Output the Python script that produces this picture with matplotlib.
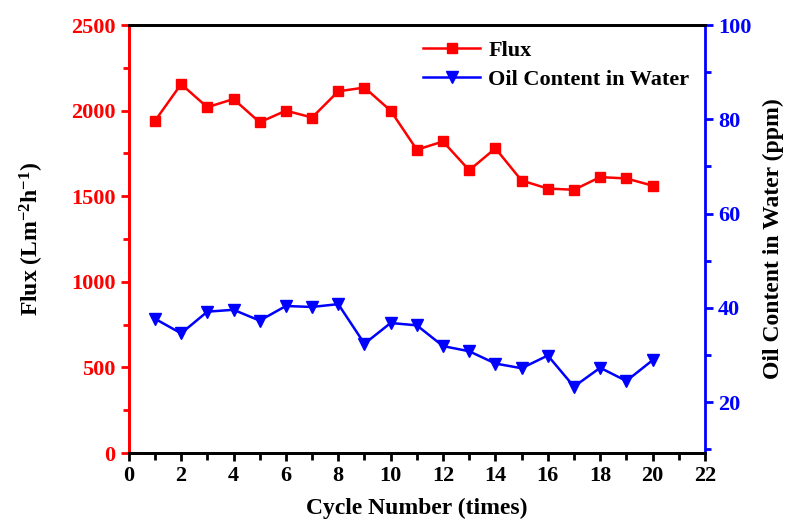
import numpy as np
import matplotlib.pyplot as plt

plt.rcParams['font.family'] = ['Liberation Serif', 'DejaVu Serif']
plt.rcParams['font.weight'] = 'bold'
plt.rcParams['mathtext.fontset'] = 'custom'
plt.rcParams['mathtext.bf'] = 'Liberation Serif:bold'
plt.rcParams['mathtext.rm'] = 'Liberation Serif:bold'
plt.rcParams['mathtext.default'] = 'bf'

# data
cycle = list(range(1, 21))
flux = [1940, 2155, 2020, 2068, 1932, 2000, 1960, 2113, 2135, 2000,
        1772, 1820, 1652, 1780, 1592, 1545, 1538, 1612, 1604, 1562]
oil = [37.7, 34.6, 39.2, 39.6, 37.3, 40.4, 40.2, 40.8, 32.4, 36.8,
       36.3, 31.9, 30.8, 28.2, 27.2, 29.9, 23.3, 27.3, 24.5, 28.9]

fig = plt.figure(figsize=(7.85, 5.22), dpi=100)
ax = fig.add_axes([0.164, 0.132, 0.734, 0.82])
ax2 = ax.twinx()

l1, = ax.plot(cycle, flux, color='red', lw=1.8, marker='s', ms=6.5, label='Flux')
l2, = ax2.plot(cycle, oil, color='blue', lw=1.8, marker='v', ms=8, label='Oil Content in Water')

ax.set_xlim(0, 22)
ax.set_ylim(0, 2500)
ax2.set_ylim(9.2, 100)
ax.set_xticks(np.arange(0, 23, 2))
ax.set_xticks(np.arange(0, 23, 1), minor=True)
ax.set_yticks(np.arange(0, 2501, 500))
ax.set_yticks(np.arange(0, 2501, 250), minor=True)
ax2.set_yticks([20, 40, 60, 80, 100])
ax2.set_yticks([10, 30, 50, 70, 90], minor=True)

for a in (ax, ax2):
    for s in a.spines.values():
        s.set_linewidth(2)
ax.spines['left'].set_color('red')
ax2.spines['left'].set_color('red')
ax2.spines['right'].set_color('blue')
ax.spines['right'].set_visible(False)

ax.tick_params(axis='x', which='both', direction='out', width=2, labelsize=16, colors='black')
ax.tick_params(axis='x', which='major', length=6)
ax.tick_params(axis='x', which='minor', length=5)
ax.tick_params(axis='y', which='both', direction='out', width=2, colors='red', labelsize=16)
ax.tick_params(axis='y', which='major', length=6)
ax.tick_params(axis='y', which='minor', length=4)
ax2.tick_params(axis='y', which='both', direction='out', width=2, colors='blue', labelsize=16)
ax2.tick_params(axis='y', which='major', length=6)
ax2.tick_params(axis='y', which='minor', length=4)

ax.set_xlabel('Cycle Number (times)', fontsize=17, fontweight='bold', labelpad=8)
ax.set_ylabel('Flux (Lm$^{-2}$h$^{-1}$)', fontsize=17, fontweight='bold', labelpad=18)
ax2.set_ylabel('Oil Content in Water (ppm)', fontsize=17, fontweight='bold', labelpad=8)

ax.legend([l1, l2], ['Flux', 'Oil Content in Water'], loc='upper right', frameon=False,
          prop={'weight': 'bold', 'size': 16}, bbox_to_anchor=(1.0, 1.0),
          handlelength=2.6, handletextpad=0.35, borderaxespad=0.3, labelspacing=0.35)

fig.savefig('out.png', dpi=100)
